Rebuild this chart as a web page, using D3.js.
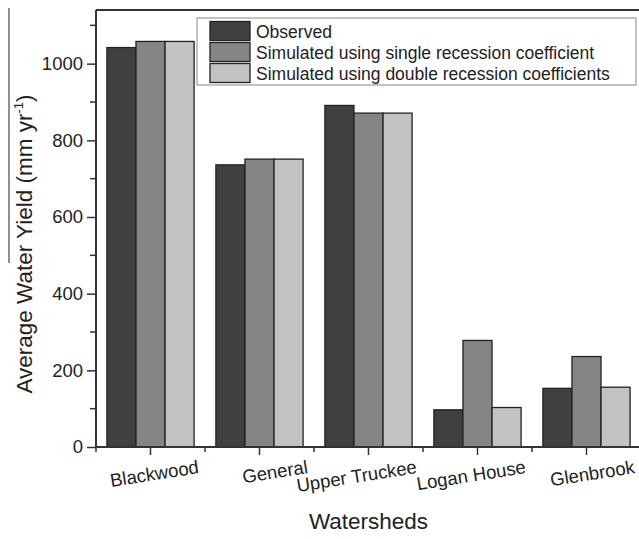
<!DOCTYPE html>
<html>
<head>
<meta charset="utf-8">
<script src="https://cdn.jsdelivr.net/npm/d3@7"></script>
<style>
  body { margin: 0; background: #fff; }
  svg { display: block; }
  svg text { font-family: 'Liberation Sans', Arial, sans-serif; }
</style>
</head>
<body>
<div id="chart"></div>
<script>
const watersheds = ['Blackwood', 'General', 'Upper Truckee', 'Logan House', 'Glenbrook']
const seriesNames = [
  'Observed',
  'Simulated using single recession coefficient',
  'Simulated using double recession coefficients'
]
const observed = [1042, 736, 891, 97, 153]
const singleCoef = [1058, 751, 871, 278, 236]
const doubleCoef = [1058, 751, 871, 103, 156]
const majorTicks = [0, 200, 400, 600, 800, 1000]
const minorTicks = [100, 300, 500, 700, 900, 1100]
const colors = ['#404040', '#858585', '#c2c2c2']

const W = 639, H = 539
const margin = { top: 10, right: -2, bottom: 92, left: 96 }
const width = W - margin.left - margin.right
const height = H - margin.top - margin.bottom

const svg = d3.select('#chart').append('svg')
  .attr('width', W).attr('height', H)

const g = svg.append('g')
  .attr('transform', 'translate(' + margin.left + ',' + margin.top + ')')

const x = d3.scaleBand().domain(watersheds).range([0, width])
  .paddingInner(0.2).paddingOuter(0.1)
const x1 = d3.scaleBand().domain(seriesNames).range([0, x.bandwidth()])
const y = d3.scaleLinear().domain([0, 1140]).range([height, 0])

const values = [observed, singleCoef, doubleCoef]
const rows = watersheds.map((w, i) => ({
  key: w,
  vals: seriesNames.map((s, j) => ({ s: s, j: j, v: values[j][i] }))
}))

// bars
g.selectAll('.grp').data(rows).enter().append('g')
  .attr('transform', d => 'translate(' + x(d.key) + ',0)')
  .selectAll('rect').data(d => d.vals).enter().append('rect')
  .attr('x', d => x1(d.s))
  .attr('y', d => y(d.v))
  .attr('width', x1.bandwidth())
  .attr('height', d => y(0) - y(d.v))
  .attr('fill', d => colors[d.j])
  .attr('stroke', '#222')
  .attr('stroke-width', 1.3)

const axisColor = '#333'

// Y axis
const yAxis = g.append('g')
  .call(d3.axisLeft(y).tickValues(majorTicks).tickSize(9).tickPadding(4).tickFormat(d3.format('d')))
yAxis.select('.domain').remove()
yAxis.selectAll('line').attr('stroke', axisColor).attr('stroke-width', 1.5)
yAxis.selectAll('text').attr('font-size', 18.5).attr('fill', '#222')
g.append('g').selectAll('line').data(minorTicks).enter().append('line')
  .attr('x1', -6).attr('x2', 0)
  .attr('y1', d => y(d)).attr('y2', d => y(d))
  .attr('stroke', axisColor).attr('stroke-width', 1.5)

// X axis
const xAxis = g.append('g')
  .attr('transform', 'translate(0,' + height + ')')
  .call(d3.axisBottom(x).tickSize(8).tickFormat(''))
xAxis.select('.domain').remove()
xAxis.selectAll('line').attr('stroke', axisColor).attr('stroke-width', 1.5)
const bounds = d3.range(watersheds.length + 1).map(i => i * x.step())
g.append('g').selectAll('line').data(bounds).enter().append('line')
  .attr('x1', d => d).attr('x2', d => d)
  .attr('y1', height).attr('y2', height + 5)
  .attr('stroke', axisColor).attr('stroke-width', 1.5)

// rotated category labels, anchored at their right end like the original
g.append('g').selectAll('text').data(watersheds).enter().append('text')
  .attr('transform', d => 'translate(' + (x(d) + x.bandwidth() / 2 + 49) + ',' + (height + 26) + ') rotate(-9)')
  .attr('text-anchor', 'end')
  .attr('font-size', 18.5)
  .attr('fill', '#222')
  .text(d => d)

// frame lines
g.append('line').attr('x1', 0).attr('x2', 0).attr('y1', 0).attr('y2', height)
  .attr('stroke', axisColor).attr('stroke-width', 2)
g.append('line').attr('x1', 0).attr('x2', width).attr('y1', height).attr('y2', height)
  .attr('stroke', axisColor).attr('stroke-width', 2)
g.append('line').attr('x1', 0).attr('x2', width).attr('y1', 0).attr('y2', 0)
  .attr('stroke', axisColor).attr('stroke-width', 2)

// stray line left of the y title
svg.append('line').attr('x1', 9).attr('x2', 9).attr('y1', 8).attr('y2', 263)
  .attr('stroke', '#555').attr('stroke-width', 1.3)

// axis titles
svg.append('text')
  .attr('x', margin.left + width / 2).attr('y', 529)
  .attr('text-anchor', 'middle').attr('font-size', 22.5).attr('fill', '#222')
  .text('Watersheds')

const yt = svg.append('text')
  .attr('transform', 'translate(32,244) rotate(-90)')
  .attr('text-anchor', 'middle').attr('font-size', 22.5).attr('fill', '#222')
yt.append('tspan').text('Average Water Yield (mm yr')
yt.append('tspan').attr('font-size', 13).attr('dy', -9).text('-1')
yt.append('tspan').attr('dy', 9).text(')')

// legend
const lg = svg.append('g').attr('transform', 'translate(197,18)')
lg.append('rect').attr('width', 439).attr('height', 67)
  .attr('fill', '#fff').attr('stroke', '#888').attr('stroke-width', 1)
seriesNames.forEach((s, i) => {
  lg.append('rect')
    .attr('x', 13).attr('y', 3.5 + i * 21)
    .attr('width', 40).attr('height', 19)
    .attr('fill', colors[i]).attr('stroke', '#222').attr('stroke-width', 1.3)
  lg.append('text')
    .attr('x', 59).attr('y', 19.5 + i * 21)
    .attr('font-size', 17.5).attr('fill', '#222')
    .text(s)
})
</script>
</body>
</html>
